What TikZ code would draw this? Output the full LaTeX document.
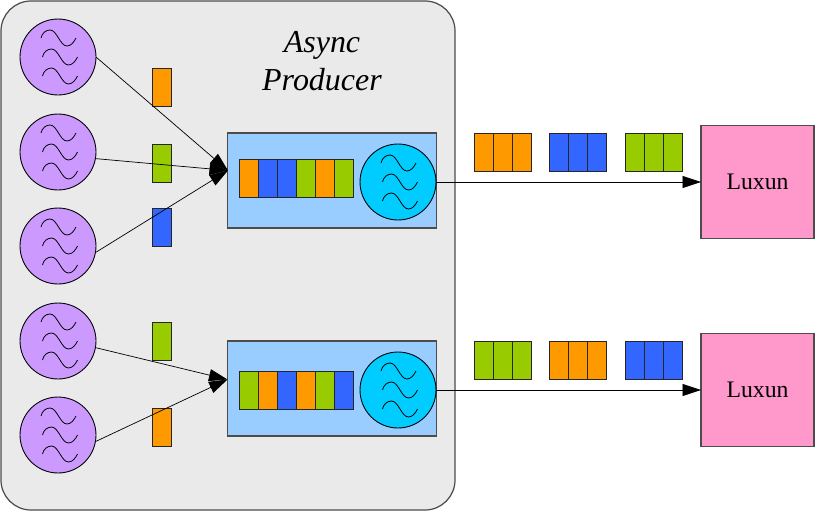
\documentclass[tikz,border=0pt]{standalone}
\usepackage{fontspec}
\setmainfont{Liberation Serif}
\usetikzlibrary{arrows.meta}
\definecolor{panelgray}{HTML}{EAEAEA}
\definecolor{srcpurple}{HTML}{CC99FF}
\definecolor{pumpcyan}{HTML}{00CCFF}
\definecolor{queueblue}{HTML}{99CCFF}
\definecolor{msgorange}{HTML}{FF9900}
\definecolor{msggreen}{HTML}{99CC00}
\definecolor{msgblue}{HTML}{3366FF}
\definecolor{luxunpink}{HTML}{FF99CC}
\tikzset{
    panel/.style={draw=black!70, fill=panelgray, line width=0.7pt, rounded corners=0.6cm},
    source/.style={circle, draw, fill=srcpurple, minimum size=1.52cm, inner sep=0pt, outer sep=0pt, line width=0.5pt},
    pump/.style={source, fill=pumpcyan},
    queue/.style={rectangle, draw=black!70, fill=queueblue, minimum width=4.18cm, minimum height=1.9cm, outer sep=0pt, line width=0.6pt},
    msg/.style={rectangle, draw=black!85, fill=#1, minimum width=0.38cm, minimum height=0.76cm, inner sep=0pt, outer sep=0pt, line width=0.5pt},
    broker/.style={rectangle, draw=black!70, fill=luxunpink, minimum size=2.26cm, font=\fontsize{13.5}{16}\selectfont, outer sep=0pt, line width=0.6pt},
    link/.style={-{Triangle[length=0.37cm, width=0.24cm]}, line width=0.4pt},
    waves/.pic={
        \foreach \dx/\dy in {0/0, 1.5/19, 1.5/38}
            \draw[line width=0.45pt, xshift=\dx*0.02cm, yshift=-\dy*0.02cm]
                (-17,-19) .. controls (-16,-24) and (-12,-27) .. (-8,-27)
                .. controls (-1,-27) and (2,-11) .. (9,-11)
                .. controls (13,-11) and (16,-15) .. (18,-19);
    }
}
\begin{document}
\begin{tikzpicture}[x=0.02cm, y=-0.02cm]
    \useasboundingbox (0,0) rectangle (815,511);
    \draw[panel] (1,1) rectangle (455,510);
    \node[font=\fontsize{18.2}{22}\selectfont\itshape, align=center] (title) at (322,61) {Async\\Producer};

    % producers
    \foreach \i/\y in {1/57, 2/152, 3/246, 4/341, 5/435} {
        \node[source] (src\i) at (58,\y) {};
        \pic at (src\i) {waves};
    }

    % messages on the way
    \foreach \i/\y/\c in {1/87/msgorange, 2/163/msggreen, 3/227/msgblue, 4/341/msggreen, 5/427/msgorange}
        \node[msg=\c] (m\i) at (161.5,\y) {};

    % the two queues
    \node[queue] (queue1) at (332,180.5) {};
    \node[queue] (queue2) at (332,388.5) {};
    \foreach \c [count=\i] in {msgorange, msgblue, msgblue, msggreen, msgorange, msggreen}
        \node[msg=\c] (qa\i) at (248.5+19*\i-19,178) {};
    \foreach \c [count=\i] in {msggreen, msgorange, msgblue, msgorange, msggreen, msgblue}
        \node[msg=\c] (qb\i) at (248.5+19*\i-19,390.5) {};
    \node[pump] (pump1) at (398,182) {};
    \node[pump] (pump2) at (398,390) {};
    \pic at (pump1) {waves};
    \pic at (pump2) {waves};

    % brokers
    \node[broker] (luxun1) at (757.5,182) {Luxun};
    \node[broker] (luxun2) at (757.5,390) {Luxun};

    % packets
    \foreach \x/\c [count=\j] in {483.5/msgorange, 558.5/msgblue, 634.5/msggreen}
        \foreach \i in {0,1,2}
            \node[msg=\c] (pa\j\i) at (\x+19*\i,152) {};
    \foreach \x/\c [count=\j] in {483.5/msggreen, 558.5/msgorange, 634.5/msgblue}
        \foreach \i in {0,1,2}
            \node[msg=\c] (pb\j\i) at (\x+19*\i,360) {};

    \coordinate (in1) at (228,170.5);
    \coordinate (in2) at (227.5,379.5);
    \draw[link] (src1.east) -- (in1);
    \draw[link] (src2.-10) -- (in1);
    \draw[link] (src3.-10) -- (in1);
    \draw[link] (src4.-10) -- (in2);
    \draw[link] (src5.-10) -- (in2);
    \draw[link] (pump1.east) -- (luxun1.west);
    \draw[link] (pump2.east) -- (luxun2.west);
\end{tikzpicture}
\end{document}
